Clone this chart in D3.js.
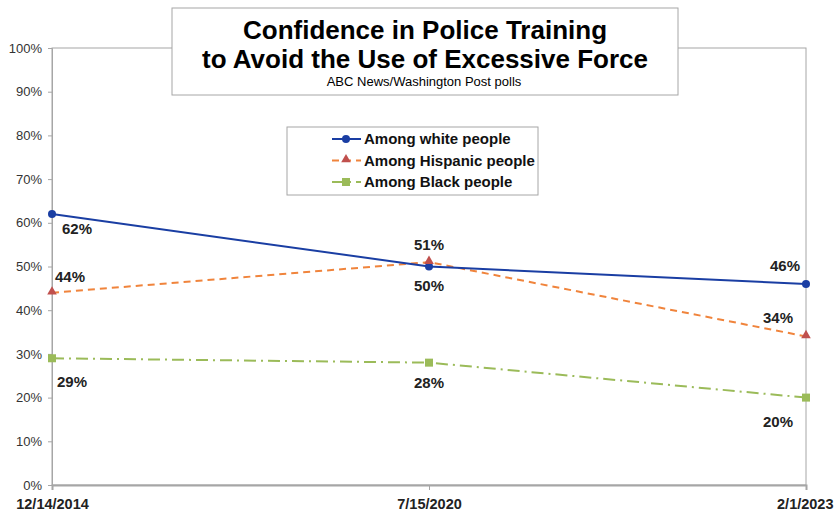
<!DOCTYPE html>
<meta charset="utf-8">
<html>
<script src="https://d3js.org/d3.v7.min.js"></script>
<body style="margin:0;background:#fff">
<style>
    text { font-family: Arial, "Liberation Sans", sans-serif; }
    .yTick text { font-size: 13px; fill: #333; }
    .xTick text { font-size: 14.5px; font-weight: bold; fill: #222; }
    .lbl { font-size: 15px; font-weight: bold; fill: #222; }
    .legendText { font-size: 15px; font-weight: bold; fill: #111; }
</style>
<div id="chart"></div>
<script>
    // data
    var dates = ["12/14/2014", "7/15/2020", "2/1/2023"];
    var white = [62, 50, 46];
    var hispanic = [44, 51, 34];
    var black = [29, 28, 20];
    var yTicks = [0, 10, 20, 30, 40, 50, 60, 70, 80, 90, 100];

    var W = 835, H = 514;
    var margin = {top: 48, right: 29, bottom: 29, left: 52};
    var width = W - margin.left - margin.right,
        height = H - margin.top - margin.bottom;

    var svg = d3.select("#chart").append("svg")
        .attr("width", W).attr("height", H);
    var g = svg.append("g")
        .attr("transform", "translate(" + margin.left + "," + margin.top + ")");

    var x = d3.scalePoint().domain(dates).range([0, width]);
    var y = d3.scaleLinear().domain([0, 100]).range([height, 0]);

    //plot area border
    g.append("rect")
        .attr("x", 0).attr("y", 0)
        .attr("width", width).attr("height", height)
        .attr("fill", "none").attr("stroke", "#a6a6a6").attr("stroke-width", 1);

    //y axis
    var yAxis = g.append("g").attr("class", "yTick")
        .call(d3.axisLeft(y).tickValues(yTicks).tickSize(4).tickPadding(6)
            .tickFormat(function(d) {return d + "%";}));
    yAxis.select(".domain").attr("stroke", "#a6a6a6");
    yAxis.selectAll("line").attr("stroke", "#a6a6a6");

    //x axis
    var xAxis = g.append("g").attr("class", "xTick")
        .attr("transform", "translate(0," + height + ")")
        .call(d3.axisBottom(x).tickSize(5).tickPadding(6));
    xAxis.select(".domain").attr("stroke", "#a6a6a6").attr("stroke-width", 2);
    xAxis.selectAll("line").attr("stroke", "#a6a6a6");
    xAxis.selectAll("text").attr("dy", "0.9em");
    xAxis.selectAll("text").filter(function(d, i) {return i == dates.length - 1;})
        .attr("text-anchor", "end").attr("dx", 27);

    var series = [
        {name: "Among white people", values: white, color: "#1a3ea3", dash: null, marker: "circle", mcolor: "#1a3ea3"},
        {name: "Among Hispanic people", values: hispanic, color: "#f0843c", dash: "7,5", marker: "triangle", mcolor: "#c0504d"},
        {name: "Among Black people", values: black, color: "#9bbb59", dash: "12,5,2,5", marker: "square", mcolor: "#9bbb59"}
    ];

    var line = d3.line()
        .x(function(d, i) {return x(dates[i]);})
        .y(function(d) {return y(d);});

    function drawMarker(sel, s, cx, cy) {
        if (s.marker == "circle") {
            sel.append("circle").attr("cx", cx).attr("cy", cy).attr("r", 4).attr("fill", s.mcolor);
        } else if (s.marker == "triangle") {
            sel.append("path").attr("d", d3.symbol().type(d3.symbolTriangle).size(40))
                .attr("transform", "translate(" + cx + "," + (cy - 1) + ")").attr("fill", s.mcolor);
        } else {
            sel.append("rect").attr("x", cx - 4).attr("y", cy - 4).attr("width", 8).attr("height", 8).attr("fill", s.mcolor);
        }
    }

    // draw order: black, hispanic, white
    [series[2], series[1], series[0]].forEach(function(s) {
        g.append("path")
            .datum(s.values)
            .attr("d", line)
            .attr("fill", "none")
            .attr("stroke", s.color)
            .attr("stroke-width", 2)
            .attr("stroke-dasharray", s.dash);
    });
    [series[2], series[0], series[1]].forEach(function(s) {
        s.values.forEach(function(v, i) {
            drawMarker(g, s, x(dates[i]), y(v));
        });
    });

    //data labels: offsets per point
    var offsets = [
        [[25, 15], [0, 19], [-21, -18]],
        [[18, -16], [0, -17], [-28, -19]],
        [[20, 23], [0, 20], [-28, 24]]
    ];
    series.forEach(function(s, si) {
        s.values.forEach(function(v, i) {
            g.append("text")
                .attr("class", "lbl")
                .attr("text-anchor", "middle")
                .attr("x", x(dates[i]) + offsets[si][i][0])
                .attr("y", y(v) + offsets[si][i][1])
                .attr("dy", "0.35em")
                .text(v + "%");
        });
    });

    //title box
    svg.append("rect")
        .attr("x", 172).attr("y", 8).attr("width", 506).attr("height", 87)
        .attr("fill", "#fff").attr("stroke", "#a6a6a6");
    svg.append("text").attr("x", 425).attr("y", 39).attr("text-anchor", "middle")
        .style("font-size", "26px").style("font-weight", "bold").text("Confidence in Police Training");
    svg.append("text").attr("x", 425).attr("y", 68).attr("text-anchor", "middle")
        .style("font-size", "26px").style("font-weight", "bold").text("to Avoid the Use of Excessive Force");
    svg.append("text").attr("x", 424).attr("y", 86).attr("text-anchor", "middle")
        .style("font-size", "13px").text("ABC News/Washington Post polls");

    //legend
    var legend = svg.append("g");
    legend.append("rect")
        .attr("x", 287).attr("y", 127).attr("width", 251).attr("height", 68)
        .attr("fill", "#fff").attr("stroke", "#a6a6a6");
    series.forEach(function(s, i) {
        var ly = 139 + i * 21.5;
        legend.append("line")
            .attr("x1", 332).attr("x2", 361).attr("y1", ly).attr("y2", ly)
            .attr("stroke", s.color).attr("stroke-width", 2)
            .attr("stroke-dasharray", s.dash);
        drawMarker(legend, s, 346, ly);
        legend.append("text")
            .attr("class", "legendText")
            .attr("x", 364).attr("y", ly).attr("dy", "0.35em")
            .text(s.name);
    });
</script>
</body>
</html>
